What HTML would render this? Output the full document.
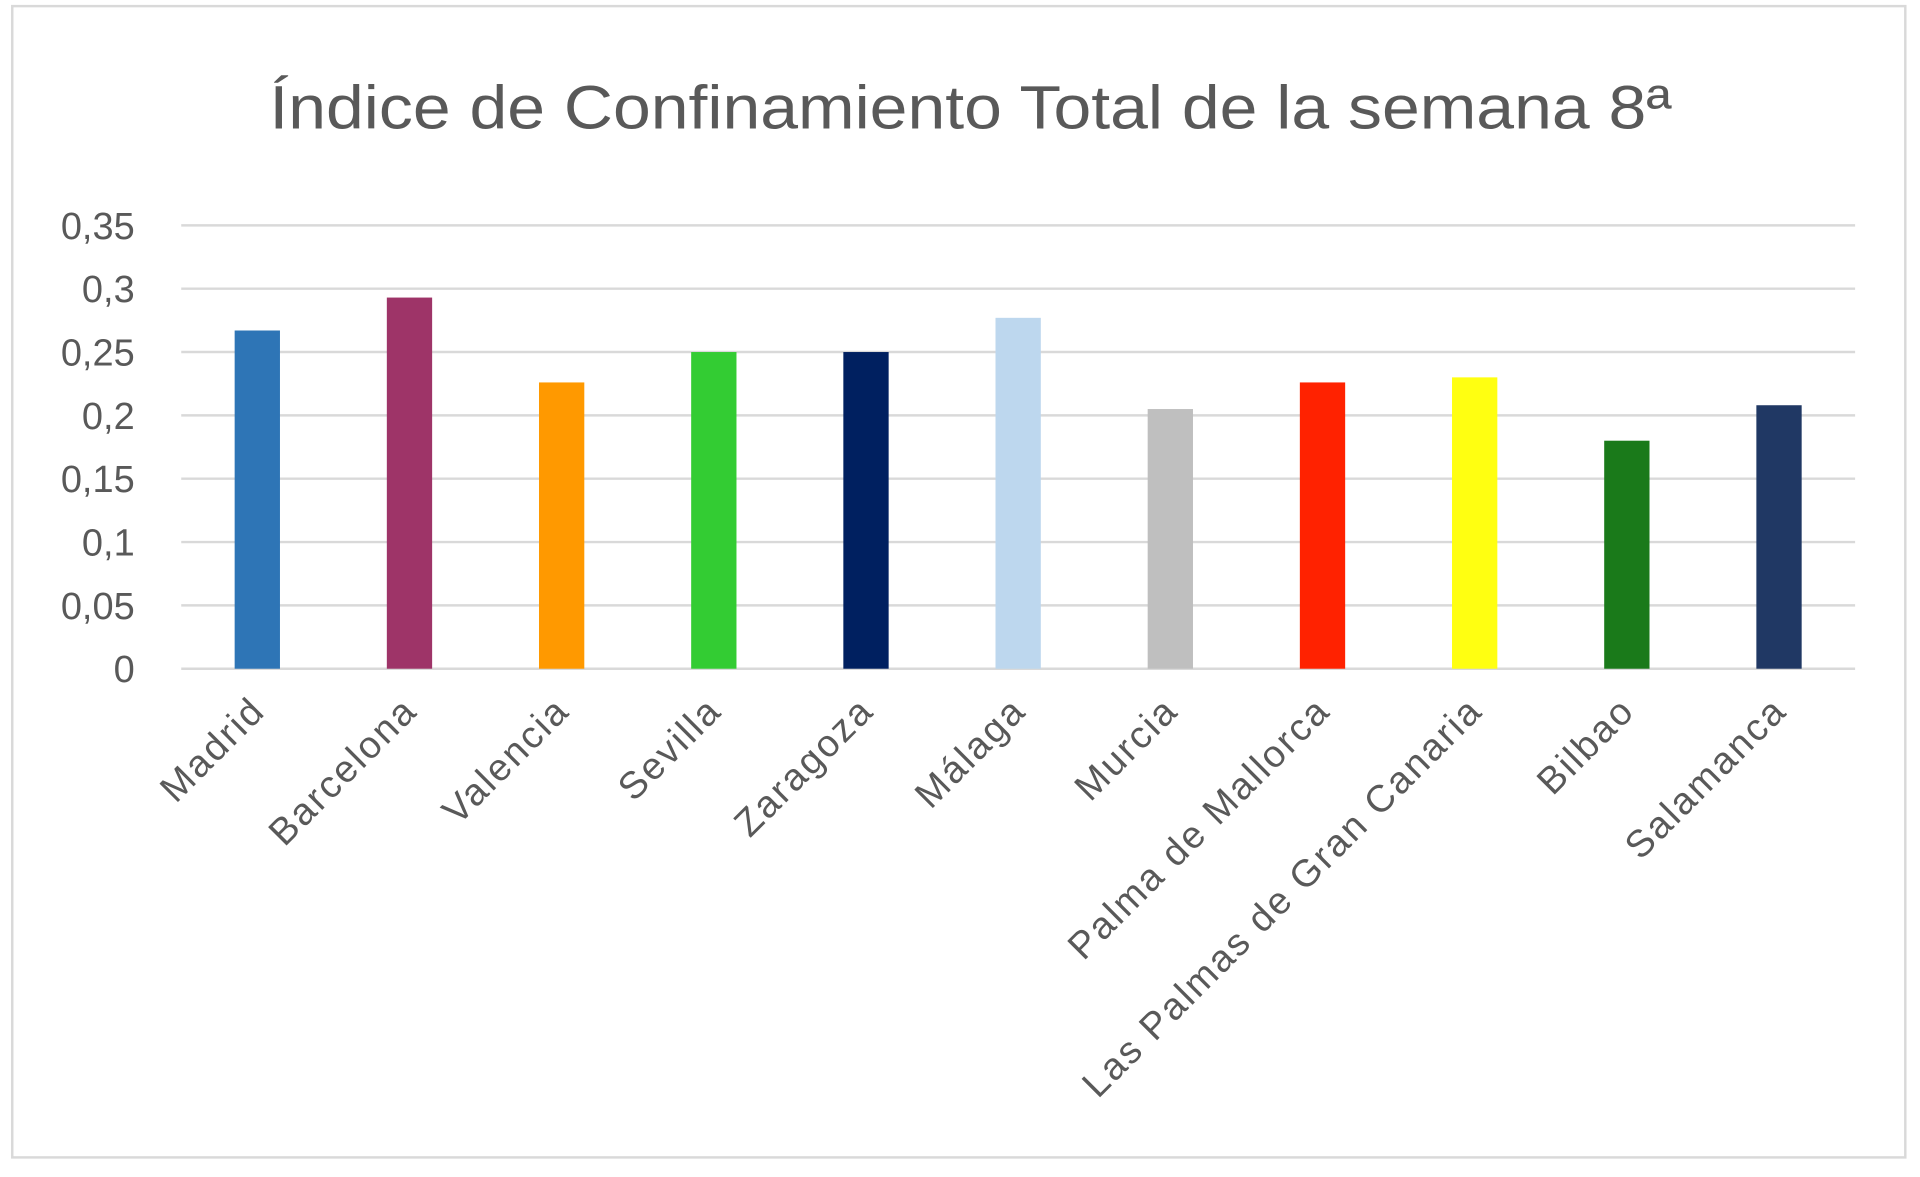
<!DOCTYPE html>
<html><head><meta charset="utf-8"><style>
html,body{margin:0;padding:0;background:#fff;}
svg{display:block;}
text{font-family:"Liberation Sans",sans-serif;fill:#595959;}
</style></head><body>
<svg id="chart" width="1920" height="1177" viewBox="0 0 1568 961" preserveAspectRatio="none" xmlns="http://www.w3.org/2000/svg">
<rect x="10" y="5" width="1546" height="940" fill="#fff" stroke="#d9d9d9" stroke-width="2"/>
<text x="220" y="105" textLength="1145" lengthAdjust="spacingAndGlyphs" font-size="50">Índice de Confinamiento Total de la semana 8ª</text>
<g id="grid"></g><g id="bars"></g><g id="labels"></g>
</svg>
<script>
const categories=["Madrid","Barcelona","Valencia","Sevilla","Zaragoza","Málaga","Murcia","Palma de Mallorca","Las Palmas de Gran Canaria","Bilbao","Salamanca"];
const values=[0.267,0.293,0.226,0.250,0.250,0.277,0.205,0.226,0.230,0.180,0.208];
const colors=["#2e75b6","#9e3468","#ff9900","#33cc33","#002060","#bdd7ee","#bfbfbf","#ff2200","#ffff11","#1a7a1a","#203864"];
const ticks=[0,0.05,0.1,0.15,0.2,0.25,0.3,0.35];
const tickLabels=["0","0,05","0,1","0,15","0,2","0,25","0,3","0,35"];
const NS="http://www.w3.org/2000/svg";
const x0=148,x1=1515,y0=546,yTop=184,ymax=0.35;
const y=v=>y0-(v/ymax)*(y0-yTop);
const band=(x1-x0)/categories.length;
const xc=i=>x0+band*(i+0.5);
const grid=document.getElementById('grid'),bars=document.getElementById('bars'),labels=document.getElementById('labels');
ticks.forEach((t,i)=>{
 const l=document.createElementNS(NS,'line');
 
 
 l.setAttribute('x1',x0);l.setAttribute('x2',x1);l.setAttribute('y1',y(t));l.setAttribute('y2',y(t));
 l.setAttribute('stroke','#d9d9d9');l.setAttribute('stroke-width','2');grid.appendChild(l);
 const tx=document.createElementNS(NS,'text');
 
 
 tx.setAttribute('x',110);tx.setAttribute('y',y(t)+11);tx.setAttribute('text-anchor','end');tx.setAttribute('font-size','31');
 tx.textContent=tickLabels[i];grid.appendChild(tx);
});
const bw=37;
categories.forEach((c,i)=>{
 const r=document.createElementNS(NS,'rect');
 
 
 r.setAttribute('x',xc(i)-bw/2);r.setAttribute('y',y(values[i]));r.setAttribute('width',bw);r.setAttribute('height',y0-y(values[i]));
 r.setAttribute('fill',colors[i]);bars.appendChild(r);
 const t=document.createElementNS(NS,'text');
 
 
 const lx=xc(i)+8,ly=582;
 t.setAttribute('x',lx);t.setAttribute('y',ly);t.setAttribute('text-anchor','end');t.setAttribute('font-size','31');
 t.setAttribute('letter-spacing','1.8');
 t.setAttribute('transform','rotate(-45 '+lx+' '+ly+')');
 t.textContent=c;labels.appendChild(t);
});
</script>
</body></html>
